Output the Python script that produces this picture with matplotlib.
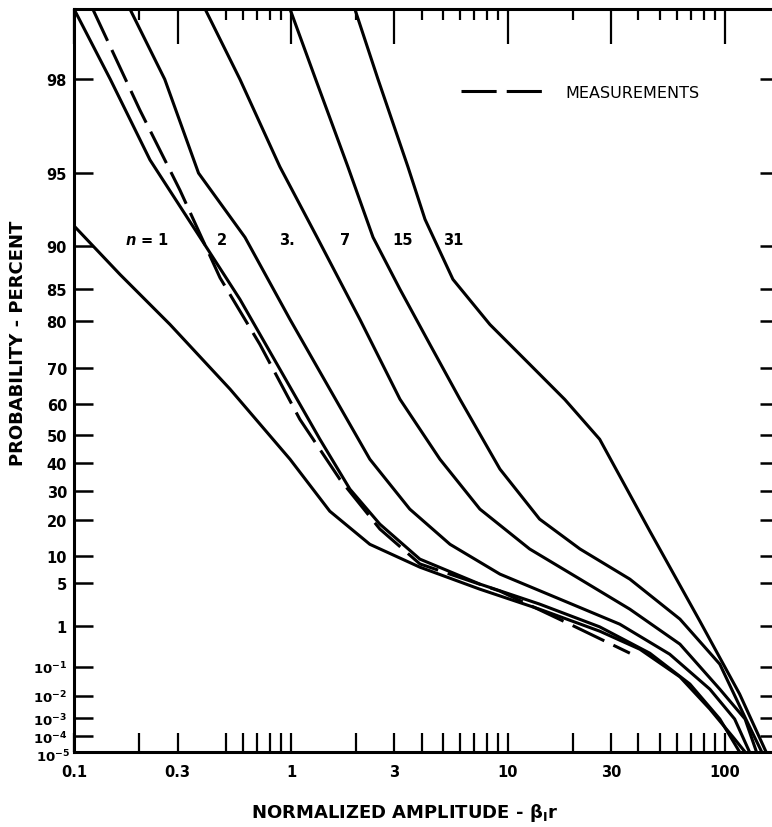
import numpy as np
import matplotlib.pyplot as plt
from matplotlib.lines import Line2D
from matplotlib.ticker import NullLocator
from matplotlib.transforms import ScaledTranslation

plt.rcParams['font.family'] = ['DejaVu Sans']
plt.rcParams['font.weight'] = 'bold'
plt.rcParams['mathtext.default'] = 'bf'

# curves: normalized amplitude vs probability (percent)
n1_amp = [0.1, 0.163, 0.277, 0.524, 0.99, 1.51, 2.31, 3.93, 7.43, 14.0, 26.5, 40.6, 62.1, 85.3, 111, 124]
n1_prob = [91.7, 86.9, 79.4, 64.5, 41.5, 22.9, 12.9, 7.65, 4.08, 2.02, 0.78, 0.30, 0.048, 2.7e-3, 7e-5, 1e-5]

n2_amp = [0.1, 0.147, 0.224, 0.381, 0.582, 0.889, 1.36, 1.87, 2.57, 3.93, 7.43, 14.0, 26.5, 45.1, 69.0, 94.8, 117]
n2_prob = [99.0, 98.0, 95.6, 90.75, 83.55, 69.8, 48.6, 30.6, 18.7, 9.32, 4.78, 2.45, 0.956, 0.238, 0.0274, 9.1e-4, 1e-5]

n3_amp = [0.181, 0.262, 0.375, 0.614, 0.99, 1.51, 2.31, 3.53, 5.41, 9.19, 17.4, 32.8, 55.7, 85.3, 111, 130]
n3_prob = [99.0, 98.0, 95.0, 90.75, 80.3, 64.5, 41.5, 23.6, 12.9, 6.37, 2.92, 1.08, 0.224, 0.0178, 9e-4, 1e-5]

n7_amp = [0.402, 0.582, 0.889, 1.32, 2.08, 3.18, 4.86, 7.43, 12.6, 21.5, 36.5, 62.1, 94.8, 124, 140]
n7_prob = [99.0, 98.0, 95.3, 90.75, 80.3, 61.6, 41.5, 23.6, 11.7, 5.53, 2.02, 0.40, 0.0178, 9e-4, 1e-5]

n15_amp = [0.99, 1.30, 1.83, 2.39, 3.18, 4.37, 6.01, 9.19, 14.0, 21.5, 36.5, 62.1, 94.8, 125, 148]
n15_prob = [99.0, 98.0, 95.3, 90.75, 85.0, 75.5, 61.6, 37.9, 20.3, 11.7, 5.53, 1.35, 0.119, 9e-4, 1e-5]

n31_amp = [1.97, 2.52, 3.46, 4.15, 5.58, 8.26, 12.6, 18.3, 26.5, 45.1, 76.7, 117, 155]
n31_prob = [99.0, 98.0, 95.3, 92.2, 86.3, 79.4, 71.0, 61.5, 48.6, 16.6, 1.24, 0.0116, 1e-5]

meas_amp = [0.122, 0.201, 0.308, 0.471, 0.719, 1.10, 1.68, 2.57, 3.93, 9.19, 19.3, 36.5]
meas_prob = [99.0, 97.3, 94.1, 86.5, 75.5, 55.3, 34.2, 17.2, 8.3, 3.84, 1.08, 0.238]

curve_labels = [r'$\mathit{n}$ = 1', '2', '3.', '7', '15', '31']
label_x = [0.217, 0.48, 0.96, 1.77, 3.28, 5.6]

ytick_vals = [98, 95, 90, 85, 80, 70, 60, 50, 40, 30, 20, 10, 5, 1, 0.1, 0.01, 1e-3, 1e-4, 1e-5]
ytick_labels = ['98', '95', '90', '85', '80', '70', '60', '50', '40', '30', '20', '10', '5', '1',
                r'$10^{-1}$', r'$10^{-2}$', r'$10^{-3}$', r'$10^{-4}$', r'$10^{-5}$']
xtick_vals = [0.1, 0.3, 1, 3, 10, 30, 100]
xtick_labels = ['0.1', '0.3', '1', '3', '10', '30', '100']
xminor = [0.2, 0.5, 0.6, 0.7, 0.8, 0.9, 2, 4, 5, 6, 7, 8, 9, 20, 40, 50, 60, 70, 80, 90]


# rayleigh probability paper: -log10(-ln P)
def fwd(p):
    p = np.clip(np.asarray(p, dtype=float), 1e-12, 99.99999)
    return -np.log10(-np.log(p / 100.0))


def inv(t):
    return 100.0 * np.exp(-10.0 ** (-np.asarray(t, dtype=float)))


fig = plt.figure(figsize=(7.72, 8.28), dpi=100)
ax = fig.add_axes([74 / 772, 75 / 828, 698 / 772, 743 / 828])

lw = 2.2
for amp, prob in [(n1_amp, n1_prob), (n2_amp, n2_prob), (n3_amp, n3_prob),
                  (n7_amp, n7_prob), (n15_amp, n15_prob), (n31_amp, n31_prob)]:
    ax.plot(amp, prob, color='black', lw=lw, solid_capstyle='round', solid_joinstyle='round')
dash = (0, (11.5, 3.3))
ax.plot(meas_amp, meas_prob, color='black', lw=lw, ls=dash)

ax.set_xscale('log')
ax.set_yscale('function', functions=(fwd, inv))
ax.set_xlim(0.1, 165)
ax.set_ylim(1e-5, 99)

for x, s in zip(label_x, curve_labels):
    ax.text(x, 90.6, s, fontsize=10.5, ha='center', va='center')

# top and right tick marks
axt = ax.twiny()
axt.set_xscale('log')
axt.set_xlim(ax.get_xlim())
axt.set_xticks(xtick_vals)
axt.set_xticks(xminor, minor=True)
axt.tick_params(which='major', direction='in', length=25, width=1.6, labeltop=False)
axt.tick_params(which='minor', direction='in', length=8, width=1.6)
axr = ax.twinx()
axr.set_yscale('function', functions=(fwd, inv))
axr.set_ylim(ax.get_ylim())
axr.set_yticks(ytick_vals)
axr.yaxis.set_minor_locator(NullLocator())
axr.tick_params(direction='in', length=9, width=1.8, labelright=False)
for a in (axt, axr):
    for sp in a.spines.values():
        sp.set_visible(False)

ax.set_yticks(ytick_vals, ytick_labels)
ax.yaxis.set_minor_locator(NullLocator())
ax.set_xticks(xtick_vals, xtick_labels)
ax.set_xticks(xminor, minor=True)
ax.tick_params(axis='y', direction='in', length=14, width=1.8, labelsize=10.5, pad=5)
ax.tick_params(axis='x', which='both', direction='in', length=14, width=1.6, labelsize=10.5, pad=9)
ax.tick_params(axis='x', which='minor', labelbottom=False)
for lab in ax.get_yticklabels()[14:]:
    lab.set_fontsize(9.5)
ax.get_yticklabels()[-1].set_transform(ax.get_yaxis_transform(which='tick1')
                                       + ScaledTranslation(-3 / 72, -2 / 72, fig.dpi_scale_trans))
for side in ['left', 'bottom', 'top']:
    ax.spines[side].set_linewidth(2.2)
ax.spines['right'].set_visible(False)

ax.legend(handles=[Line2D([], [], color='black', lw=lw, ls=dash)], labels=['MEASUREMENTS'],
          frameon=False, loc='center left', bbox_to_anchor=(0.555, 0.888),
          handlelength=5.3, handletextpad=1.2, borderpad=0, borderaxespad=0,
          prop={'size': 11.5, 'weight': 'normal'})

fig.text(18 / 772, 1 - 343 / 828, 'PROBABILITY - PERCENT', rotation=90, ha='center', va='center',
         fontsize=13)
fig.text(405 / 772, 1 - 813 / 828, r'NORMALIZED AMPLITUDE - $\beta_{\mathrm{I}}r$', ha='center',
         va='center', fontsize=13)

fig.savefig('out.png', dpi=100)
